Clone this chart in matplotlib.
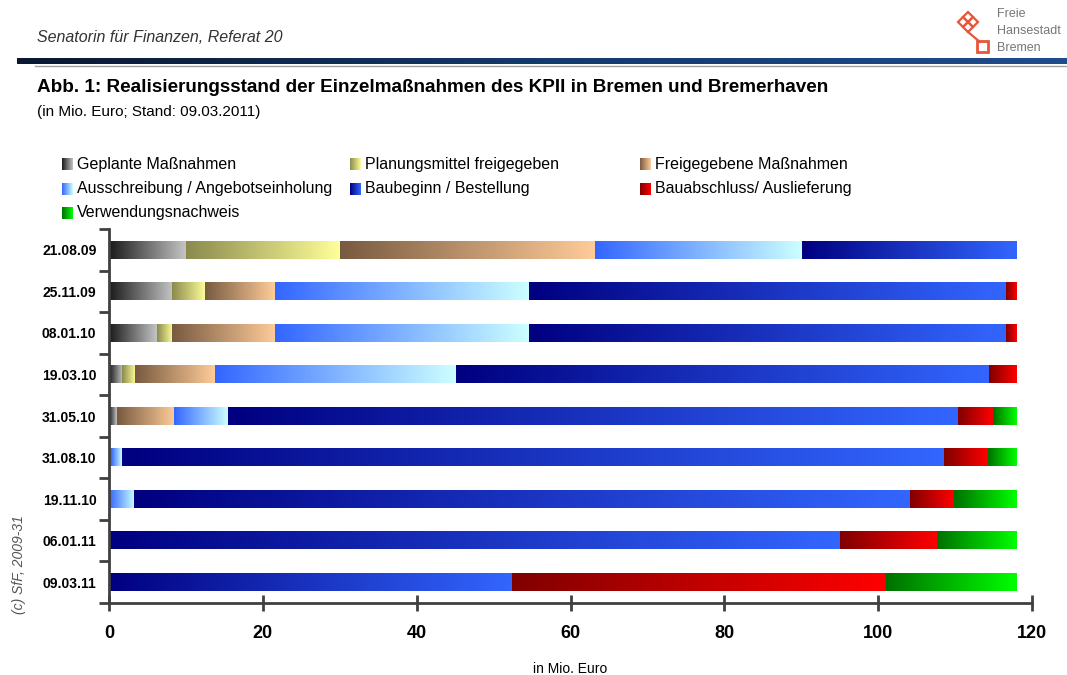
import numpy as np
import matplotlib
matplotlib.use("Agg")
import matplotlib.pyplot as plt
from matplotlib.colors import LinearSegmentedColormap
from matplotlib.patches import Rectangle, Polygon

plt.rcParams['font.family'] = ['Liberation Sans', 'DejaVu Sans']

# Stichtage (oben nach unten)
stichtage = ['21.08.09', '25.11.09', '08.01.10', '19.03.10', '31.05.10',
             '31.08.10', '19.11.10', '06.01.11', '09.03.11']

kategorien = ['Geplante Maßnahmen', 'Planungsmittel freigegeben', 'Freigegebene Maßnahmen',
              'Ausschreibung / Angebotseinholung', 'Baubeginn / Bestellung',
              'Bauabschluss/ Auslieferung', 'Verwendungsnachweis']

# Werte in Mio. Euro je Kategorie, Reihenfolge wie stichtage
geplant        = [10.0, 8.2, 6.2, 1.7, 1.0, 0.3, 0.0, 0.0, 0.0]
planungsmittel = [20.0, 4.3, 2.0, 1.7, 0.0, 0.0, 0.0, 0.0, 0.0]
freigegeben    = [33.2, 9.1, 13.4, 10.4, 7.5, 0.0, 0.0, 0.0, 0.0]
ausschreibung  = [26.9, 33.0, 33.0, 31.3, 7.0, 1.4, 3.3, 0.0, 0.0]
baubeginn      = [27.9, 62.0, 62.0, 69.3, 94.9, 106.9, 100.9, 95.1, 52.4]
bauabschluss   = [0.0, 1.4, 1.4, 3.6, 4.5, 5.7, 5.7, 12.6, 48.6]
verwendung     = [0.0, 0.0, 0.0, 0.0, 3.1, 3.7, 8.1, 10.3, 17.0]

x_ticks = [0, 20, 40, 60, 80, 100, 120]

# Farbverlauf je Kategorie (dunkel -> hell)
verlaeufe = [('#1a1a1a', '#c4c4c4'), ('#8a8a4e', '#ffff99'), ('#785a40', '#ffcc99'),
             ('#3366ff', '#ccffff'), ('#000080', '#3366ff'), ('#800000', '#ff0000'),
             ('#007000', '#00ff00')]

serien = [geplant, planungsmittel, freigegeben, ausschreibung, baubeginn, bauabschluss, verwendung]

W, H = 1067, 675
fig = plt.figure(figsize=(W / 100, H / 100), dpi=100)
ax = fig.add_axes([109 / W, (H - 603) / H, 923 / W, 374 / H])

grad = np.linspace(0, 1, 256).reshape(1, -1)
ypos = np.arange(len(stichtage))
left = np.zeros(len(stichtage))
for werte, (c0, c1) in zip(serien, verlaeufe):
    cmap = LinearSegmentedColormap.from_list('g', [c0, c1])
    bars = ax.barh(ypos, werte, left=left, height=0.42, facecolor='none', edgecolor='none')
    for p in bars.patches:
        if p.get_width() <= 0:
            continue
        x0, y0 = p.get_x(), p.get_y()
        ax.imshow(grad, cmap=cmap, aspect='auto', interpolation='bilinear',
                  extent=[x0, x0 + p.get_width(), y0, y0 + p.get_height()], zorder=2)
    left += np.array(werte)

ax.set_xlim(0, 120)
ax.set_ylim(len(stichtage) - 0.5, -0.5)
ax.set_xticks(x_ticks)
ax.set_xticklabels([str(t) for t in x_ticks], fontsize=13, fontweight='bold')
ax.tick_params(axis='x', direction='inout', length=12, width=2, color='#404040', pad=10)

# Kategorietrenner als Major-Ticks, Beschriftung als Minor-Ticks
ax.set_yticks(np.arange(-0.5, len(stichtage), 1.0))
ax.set_yticklabels([])
ax.set_yticks(ypos, minor=True)
ax.set_yticklabels(stichtage, minor=True, fontsize=10, fontweight='bold')
ax.tick_params(axis='y', which='major', direction='out', length=7, width=2, color='#404040')
ax.tick_params(axis='y', which='minor', length=0, pad=9)

for s in ['top', 'right']:
    ax.spines[s].set_visible(False)
for s in ['left', 'bottom']:
    ax.spines[s].set_color('#404040')
    ax.spines[s].set_linewidth(2)

ax.set_xlabel('in Mio. Euro', fontsize=10, labelpad=14)

# Overlay in Pixelkoordinaten fuer Kopf, Legende, Logo
ov = fig.add_axes([0, 0, 1, 1], zorder=-1)
ov.set_xlim(0, W)
ov.set_ylim(H, 0)
ov.axis('off')

ov.text(37, 38, 'Senatorin für Finanzen, Referat 20', fontsize=11.5, style='italic',
        color='#333333', va='center')
ov.imshow(grad, cmap=LinearSegmentedColormap.from_list('n', ['#0a1830', '#143a6e', '#1f4d8c']),
          aspect='auto', extent=[17, W, 64, 58])
ov.plot([35, W], [65.5, 65.5], color='#a0a0a0', lw=1)

ov.text(37, 88, 'Abb. 1: Realisierungsstand der Einzelmaßnahmen des KPII in Bremen und Bremerhaven',
        fontsize=13.6, fontweight='bold', va='center')
ov.text(37, 112, '(in Mio. Euro; Stand: 09.03.2011)', fontsize=11, va='center')

# Legende
leg_x = [62, 350, 640]
leg_y = [164, 189, 213]
for i, (name, (c0, c1)) in enumerate(zip(kategorien, verlaeufe)):
    lx, ly = leg_x[i % 3], leg_y[i // 3]
    cmap = LinearSegmentedColormap.from_list('l', [c0, c1])
    ov.imshow(grad, cmap=cmap, aspect='auto', extent=[lx, lx + 11, ly + 6, ly - 6])
    ov.text(lx + 15, ly, name, fontsize=11.5, va='center')

ov.text(19, 565, '(c) SfF, 2009-31', rotation=90, fontsize=10, style='italic',
        color='#555555', va='center', ha='center')

# Logo
rot = '#e8553a'
cx, cy, d = 968, 22, 5
for dx, dy in [(0, -d), (-d, 0), (d, 0), (0, d)]:
    ov.add_patch(Polygon([(cx + dx, cy + dy - 5), (cx + dx + 5, cy + dy), (cx + dx, cy + dy + 5),
                          (cx + dx - 5, cy + dy)], closed=True, fill=False, ec=rot, lw=1.6))
ov.plot([cx, 980], [cy + 10, 42], color=rot, lw=1.6)
ov.add_patch(Rectangle((977, 41), 11, 11, fill=False, ec=rot, lw=2))
for t, yy in zip(['Freie', 'Hansestadt', 'Bremen'], [14, 31, 48]):
    ov.text(997, yy, t, fontsize=9, color='#777777', va='center')

ax.set_facecolor('none')
ax.set_zorder(1)
fig.savefig('out.png', dpi=100)
